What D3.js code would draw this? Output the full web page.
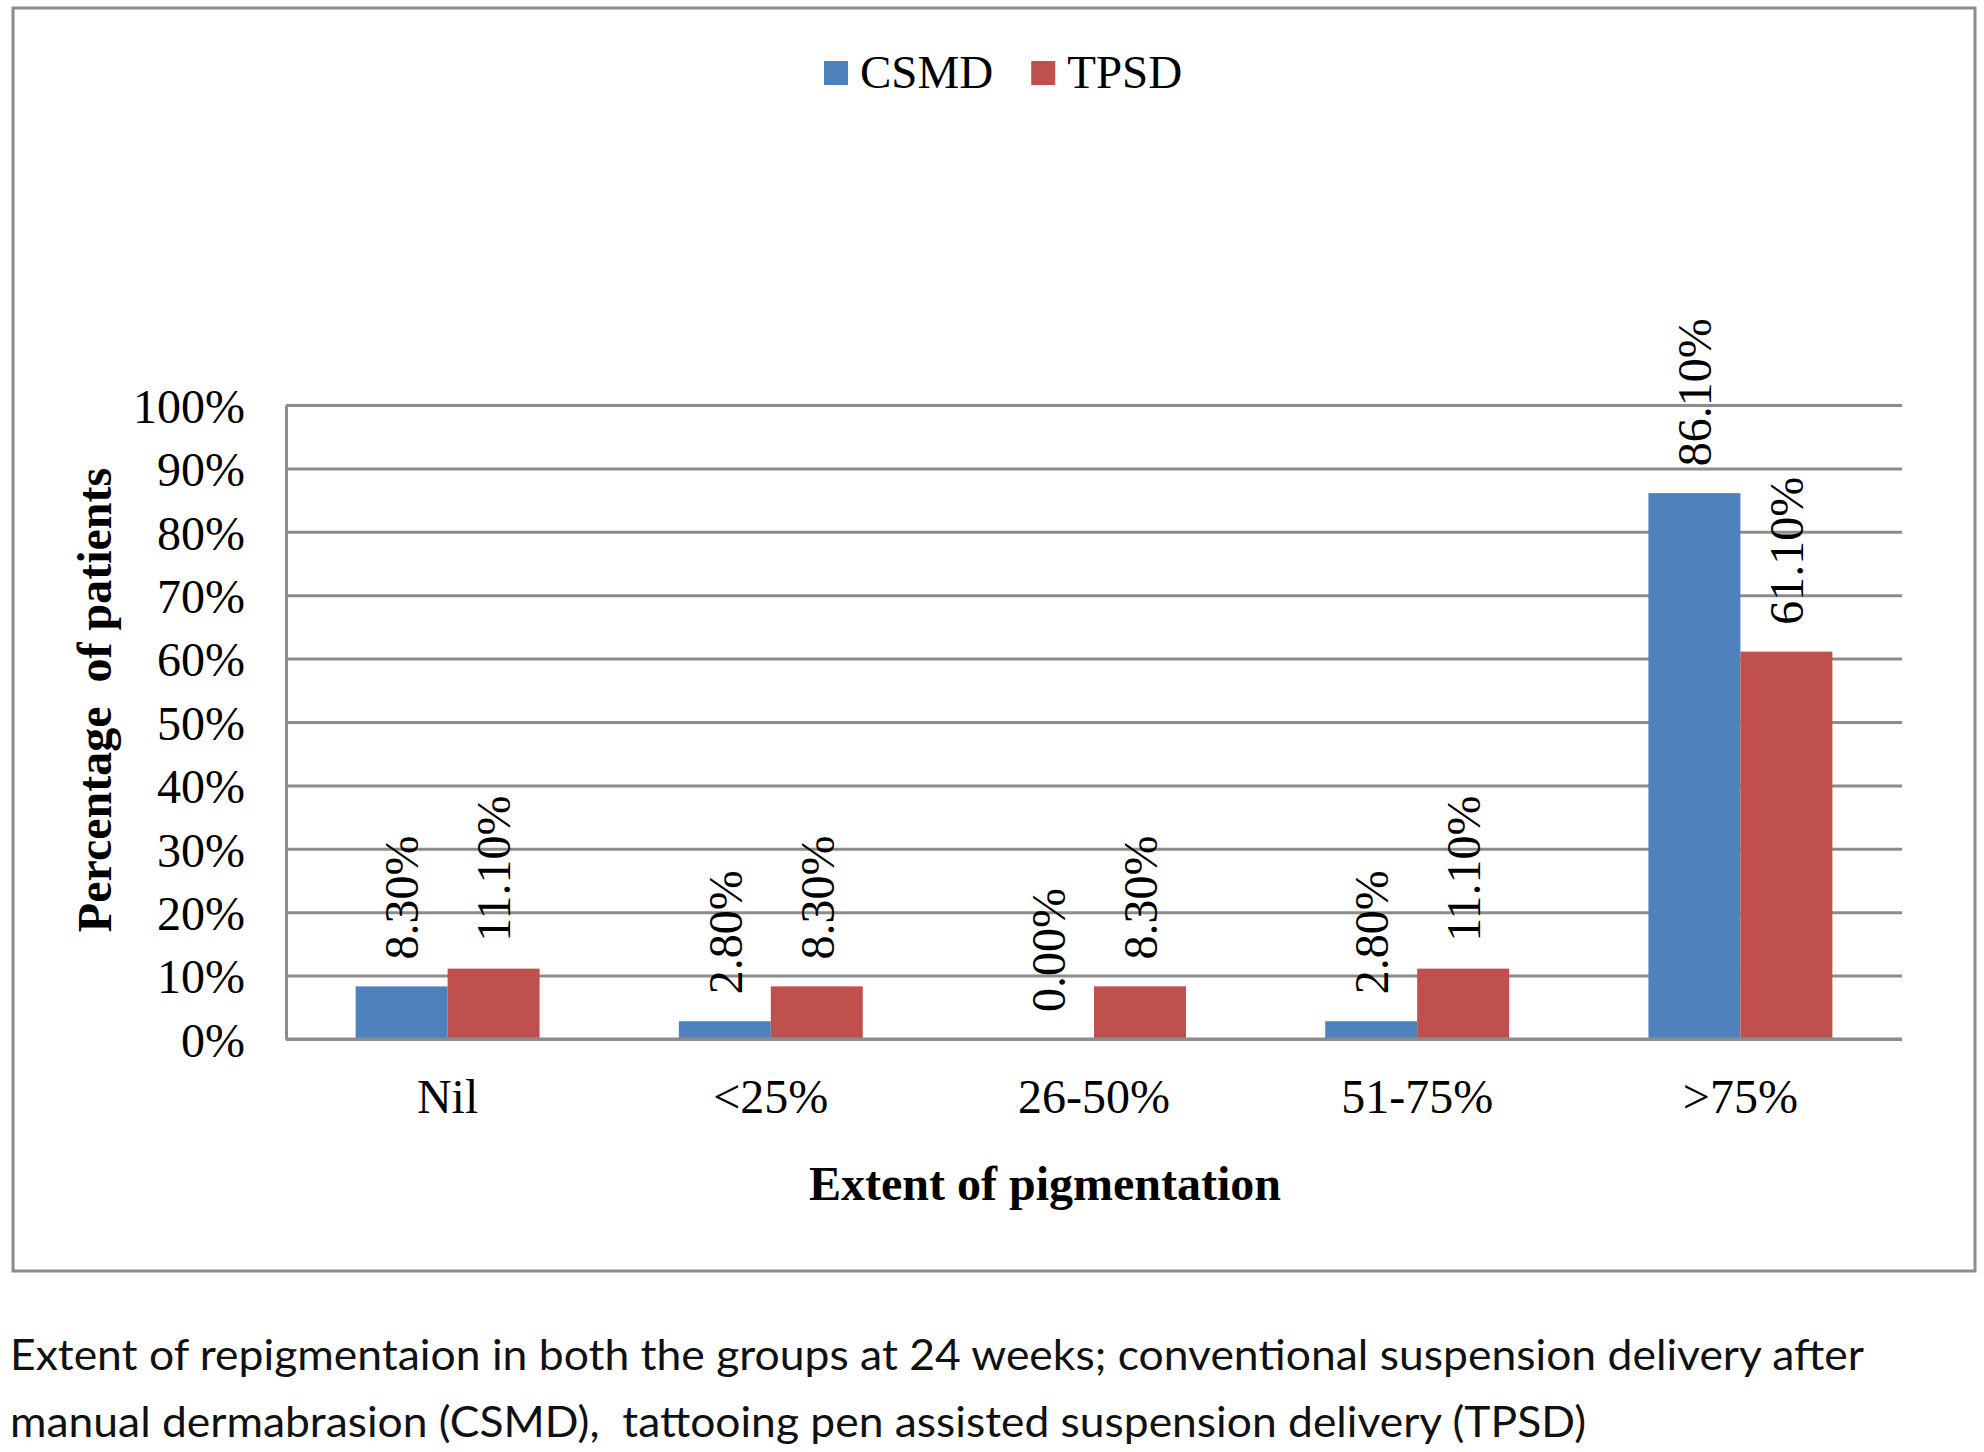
<!DOCTYPE html>
<html><head><meta charset="utf-8">
<script src="https://cdn.jsdelivr.net/npm/d3@7"></script>
<style>
body{margin:0;background:#fff;}
svg{display:block;}
</style></head>
<body>
<svg id="chart" width="1984" height="1452"></svg>
<script>
const categories = ["Nil", "<25%", "26-50%", "51-75%", ">75%"];
const seriesNames = ["CSMD", "TPSD"];
const csmdValues = [8.3, 2.8, 0.0, 2.8, 86.1];
const tpsdValues = [11.1, 8.3, 8.3, 11.1, 61.1];
const yTicks = [0, 10, 20, 30, 40, 50, 60, 70, 80, 90, 100];
const colors = {CSMD: "#4F81BD", TPSD: "#C0504D"};
const captionLines = [
  "Extent of repigmentaion in both the groups at 24 weeks; conventional suspension delivery after",
  "manual dermabrasion (CSMD),  tattooing pen assisted suspension delivery (TPSD)"
];

const serif = "'Liberation Serif','Times New Roman',serif";
const gridColor = "#8c8c8c";
const svg = d3.select("#chart");
svg.append("rect").attr("width",1984).attr("height",1452).attr("fill","#fff");

// outer border
svg.append("rect").attr("x",13).attr("y",8).attr("width",1962).attr("height",1263)
  .attr("fill","none").attr("stroke",gridColor).attr("stroke-width",3);

const plot = {left:286, right:1902, top:405, bottom:1039};
const x0 = d3.scaleBand().domain(categories).range([plot.left, plot.right]).padding(0);
const x1 = d3.scaleBand().domain(seriesNames).range([0, x0.bandwidth()]).paddingInner(0).paddingOuter(0.757);
const y = d3.scaleLinear().domain([0,100]).range([plot.bottom, plot.top]);

// y axis with gridlines
const yAxis = svg.append("g").attr("transform",`translate(${plot.left},0)`)
  .call(d3.axisLeft(y).tickValues(yTicks).tickFormat(d=>d+"%")
    .tickSizeInner(-(plot.right-plot.left)).tickSizeOuter(0).tickPadding(41));
yAxis.selectAll("line").attr("stroke",gridColor).attr("stroke-width",3);
yAxis.select(".domain").attr("stroke",gridColor).attr("stroke-width",3);
yAxis.selectAll("text").attr("font-family",serif).attr("font-size",48).attr("fill","#000").attr("dy","0.36em");

// data
const data = categories.map((c,i)=>({cat:c, values:[{key:"CSMD",v:csmdValues[i]},{key:"TPSD",v:tpsdValues[i]}]}));
const groups = svg.append("g").selectAll("g").data(data).join("g")
  .attr("transform",d=>`translate(${x0(d.cat)},0)`);
groups.selectAll("rect").data(d=>d.values).join("rect")
  .attr("x",d=>x1(d.key)).attr("width",x1.bandwidth())
  .attr("y",d=>y(d.v)).attr("height",d=>y(0)-y(d.v))
  .attr("fill",d=>colors[d.key]);

// baseline redraw
svg.append("line").attr("x1",plot.left).attr("x2",plot.right).attr("y1",y(0)).attr("y2",y(0))
  .attr("stroke",gridColor).attr("stroke-width",3);

// data labels
groups.selectAll("text.lbl").data(d=>d.values).join("text").attr("class","lbl")
  .attr("transform",d=>`translate(${x1(d.key)+x1.bandwidth()/2},${y(d.v)-27}) rotate(-90)`)
  .attr("dy","0.35em").attr("text-anchor","start")
  .attr("font-family",serif).attr("font-size",48).attr("fill","#000")
  .text(d=>d.v.toFixed(2)+"%");

// x axis labels
const xAxis = svg.append("g").attr("transform",`translate(0,${plot.bottom})`)
  .call(d3.axisBottom(x0).tickSize(0));
xAxis.select(".domain").remove();
xAxis.selectAll("text").attr("font-family",serif).attr("font-size",48).attr("fill","#000")
  .attr("y",74).attr("dy",null);

// axis titles
svg.append("text").attr("x",1045).attr("y",1200).attr("text-anchor","middle")
  .attr("font-family",serif).attr("font-size",48).attr("font-weight","bold").text("Extent of pigmentation");
svg.append("text").attr("transform","translate(111,700) rotate(-90)").attr("text-anchor","middle")
  .style("white-space","pre")
  .attr("font-family",serif).attr("font-size",48).attr("font-weight","bold").text("Percentage  of patients");

// legend
const legend = svg.append("g");
let lx = 824;
seriesNames.forEach(s=>{
  legend.append("rect").attr("x",lx).attr("y",61).attr("width",24).attr("height",24).attr("fill",colors[s]);
  const t = legend.append("text").attr("x",lx+36).attr("y",88)
    .attr("font-family",serif).attr("font-size",47).attr("fill","#000").text(s);
  lx += 36 + t.node().getComputedTextLength() + 38;
});

// caption
const capWidths = [1854, 1576];
captionLines.forEach((l,i)=>{
  svg.append("text").attr("x",10).attr("y",1370+i*67)
    .attr("font-family","Lato,'Open Sans',sans-serif").attr("font-size",42).attr("fill","#111")
    .style("white-space","pre")
    .attr("textLength",capWidths[i]).attr("lengthAdjust","spacingAndGlyphs").text(l);
});
</script>
</body></html>
